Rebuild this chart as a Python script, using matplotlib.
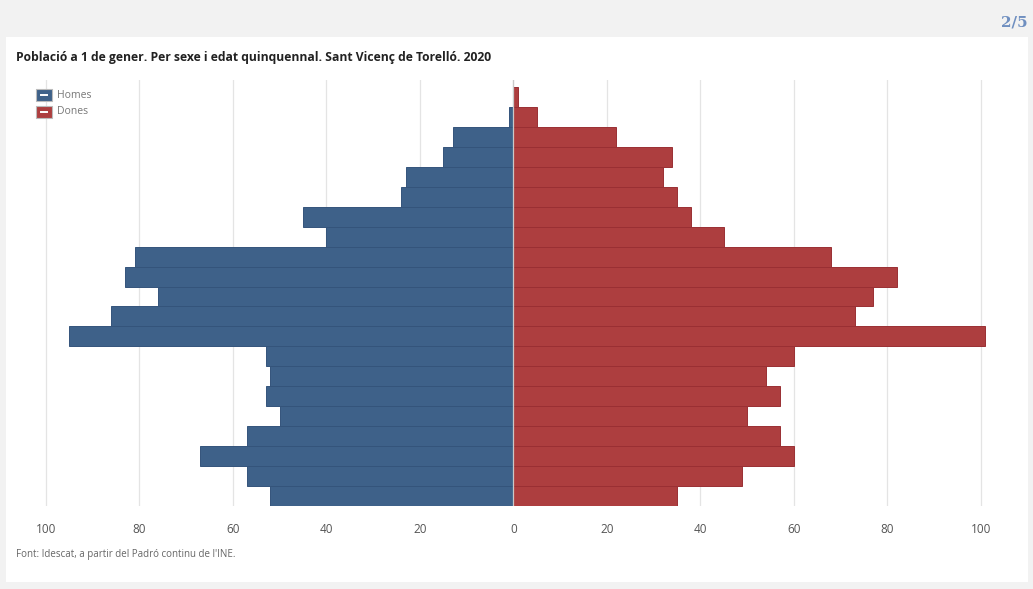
"""
Piràmide de població — Sant Vicenç de Torelló 2020
"""

import matplotlib.pyplot as plt
from matplotlib.patches import Rectangle

# age groups from youngest (bottom) to oldest (top)
ages = ["0-4", "5-9", "10-14", "15-19", "20-24", "25-29", "30-34", "35-39",
        "40-44", "45-49", "50-54", "55-59", "60-64", "65-69", "70-74", "75-79",
        "80-84", "85-89", "90-94", "95-99", "100+"]
homes = [52, 57, 67, 57, 50, 53, 52, 53, 95, 86, 76, 83, 81, 40, 45, 24, 23, 15, 13, 1, 0]
dones = [35, 49, 60, 57, 50, 57, 54, 60, 101, 73, 77, 82, 68, 45, 38, 35, 32, 34, 22, 5, 1]
ticks = [-100, -80, -60, -40, -20, 0, 20, 40, 60, 80, 100]

BLUE = "#3e6189"
BLUE_EDGE = "#34547b"
RED = "#ad3e3f"
RED_EDGE = "#9a2f33"

W, H = 1033, 589
fig = plt.figure(figsize=(W / 100, H / 100), dpi=100)
fig.patch.set_facecolor("#f2f2f2")

# white card behind the chart
fig.patches.append(Rectangle((6 / W, 1 - 582 / H), (1028 - 6) / W, (582 - 37) / H,
                             transform=fig.transFigure, facecolor="white",
                             edgecolor="none", zorder=-5))

ax = fig.add_axes([36.5 / W, 1 - 506 / H, (999.5 - 36.5) / W, (506 - 80) / H])
ax.set_facecolor("none")
ax.set_zorder(2)

y = list(range(len(ages)))
ax.barh(y, [-v for v in homes], height=1.0, color=BLUE, edgecolor=BLUE_EDGE,
        linewidth=0.7, zorder=2)
ax.barh(y, dones, height=1.0, color=RED, edgecolor=RED_EDGE,
        linewidth=0.7, zorder=2)
ax.axvline(0, color="#c9c9c9", linewidth=0.9, zorder=3)

for t in ticks:
    ax.axvline(t, color="#e4e4e4", linewidth=0.9, zorder=1)

ax.set_xlim(-102, 104)
ax.set_ylim(-0.5, len(ages) - 0.15)
ax.set_xticks(ticks)
ax.set_xticklabels([str(abs(t)) for t in ticks], fontsize=8.5, color="#555555",
                   family="Open Sans")
ax.tick_params(axis="x", length=0, pad=12)
ax.set_yticks([])
for s in ax.spines.values():
    s.set_visible(False)

# title, page counter and source
fig.text(16 / W, 1 - 58 / H, "Població a 1 de gener. Per sexe i edat quinquennal. Sant Vicenç de Torelló. 2020",
         fontsize=8.7, fontweight="bold", color="#222222", family="Open Sans",
         va="center", ha="left")
fig.text(1028 / W, 1 - 22 / H, "2/5", fontsize=11, fontweight="bold", color="#6f8fc0",
         family="DejaVu Serif", va="center", ha="right")
fig.text(16 / W, 1 - 554 / H, "Font: Idescat, a partir del Padró continu de l'INE.",
         fontsize=7, color="#666666", family="Open Sans", va="center", ha="left")

# legend boxes
for i, (lbl, col) in enumerate([("Homes", BLUE), ("Dones", RED)]):
    yc = 95 + i * 17
    fig.patches.append(Rectangle((36 / W, 1 - (yc + 6) / H), 16 / W, 12 / H,
                                 transform=fig.transFigure, facecolor=col,
                                 edgecolor="#bbbbbb", linewidth=0.8, zorder=5))
    fig.lines.append(plt.Line2D([41 / W, 47 / W], [1 - yc / H, 1 - yc / H],
                                transform=fig.transFigure, color="white",
                                linewidth=1.4, zorder=6))
    fig.text(57 / W, 1 - yc / H, lbl, fontsize=7.5, color="#777777",
             family="Open Sans", va="center", ha="left")

fig.savefig("out.png", dpi=100, facecolor=fig.get_facecolor())
